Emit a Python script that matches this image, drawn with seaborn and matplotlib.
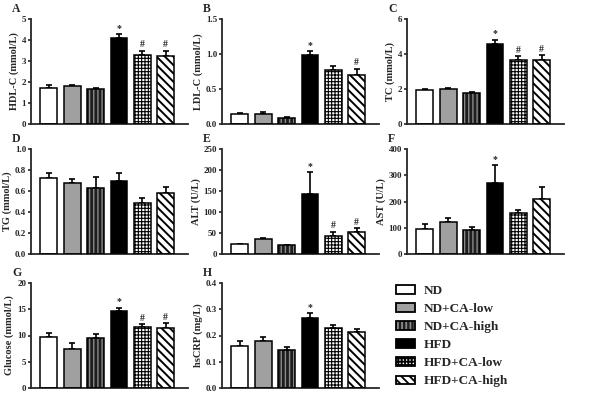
import numpy as np
import matplotlib
matplotlib.use('Agg')
import matplotlib.pyplot as plt
import seaborn as sns
from matplotlib.patches import Patch

# --- DATA ---
groups = ['ND', 'ND+CA-low', 'ND+CA-high', 'HFD', 'HFD+CA-low', 'HFD+CA-high']

hdl = [1.72, 1.82, 1.67, 4.08, 3.30, 3.25]
hdl_err = [0.12, 0.06, 0.06, 0.20, 0.20, 0.25]
ldl = [0.15, 0.15, 0.09, 0.98, 0.77, 0.70]
ldl_err = [0.01, 0.025, 0.01, 0.06, 0.06, 0.09]
tc = [1.92, 2.00, 1.80, 4.60, 3.68, 3.65]
tc_err = [0.10, 0.08, 0.05, 0.22, 0.18, 0.27]
tg = [0.72, 0.675, 0.63, 0.70, 0.485, 0.585]
tg_err = [0.05, 0.04, 0.105, 0.07, 0.045, 0.05]
alt = [23, 35, 21, 142, 44, 52]
alt_err = [2, 3, 1.5, 53, 9, 9]
ast = [97, 123, 90, 270, 155, 210]
ast_err = [17, 13, 12, 68, 12, 45]
glucose = [9.8, 7.5, 9.6, 14.6, 11.6, 11.5]
glucose_err = [0.6, 1.0, 0.7, 0.7, 0.6, 0.8]
hscrp = [0.160, 0.180, 0.145, 0.268, 0.228, 0.213]
hscrp_err = [0.018, 0.016, 0.013, 0.018, 0.013, 0.010]

# significance marks per bar
marks_a = ['', '', '', '*', '#', '#']
marks_b = ['', '', '', '*', '', '#']
marks_c = ['', '', '', '*', '#', '#']
marks_d = ['', '', '', '', '', '']
marks_e = ['', '', '', '*', '#', '#']
marks_f = ['', '', '', '*', '', '']
marks_g = ['', '', '', '*', '#', '#']
marks_h = ['', '', '', '*', '', '']

# --- STYLE ---
sns.set_style('ticks')
plt.rcParams['font.family'] = ['Liberation Serif', 'DejaVu Serif']
plt.rcParams['font.weight'] = 'bold'
plt.rcParams['axes.labelweight'] = 'bold'
plt.rcParams['hatch.linewidth'] = 1.3

face = ['white', '#a0a0a0', '#1e1e1e', 'black', 'white', 'white']
hatch_col = ['black', 'black', '#8a8a8a', 'black', 'black', 'black']
hatches = ['', '', '||||', '', '+++++', '\\\\\\\\']
hatch_lw = [1.0, 1.0, 1.0, 1.0, 0.8, 1.4]

fig = plt.figure(figsize=(5.94, 3.94), dpi=100)
W, H = 594, 394


def add_ax(left, top, width, height):
    return fig.add_axes([left / W, 1 - (top + height) / H, width / W, height / H])


def style_patch(p, ht, hc, lw):
    p.set_hatch(ht)
    p.set_edgecolor(hc)
    p.set_linewidth(0)
    if hasattr(p, 'set_hatch_linewidth'):
        p.set_hatch_linewidth(lw)


def panel(ax, vals, errs, marks, ylim, ticks, ylabel, letter):
    x = np.arange(len(groups))
    ax.errorbar(x, vals, yerr=[np.zeros(len(vals)), errs], fmt='none',
                ecolor='black', elinewidth=1.2, capsize=2.5, capthick=1.2, zorder=1)
    sns.barplot(x=groups, y=vals, hue=groups, palette=face, legend=False,
                width=0.72, linewidth=0, ax=ax, zorder=2)
    for p, ht, hc, lw in zip(ax.patches, hatches, hatch_col, hatch_lw):
        style_patch(p, ht, hc, lw)
    # outlines on top
    ax.bar(x, vals, width=0.72, fill=False, edgecolor='black', linewidth=1.1, zorder=3)
    for xi, v, e, m in zip(x, vals, errs, marks):
        if m:
            ax.text(xi, v + e + ylim * 0.012, m, ha='center', va='bottom', fontsize=7)
    ax.set_xlim(-0.76, 5.95)
    ax.set_ylim(0, ylim)
    ax.set_yticks(ticks)
    ax.set_xticks([])
    ax.set_xlabel('')
    ax.set_ylabel(ylabel, fontsize=7.5, labelpad=2)
    ax.tick_params(axis='y', labelsize=6.5, length=2.5, width=1.2, pad=1)
    for s in ['left', 'bottom']:
        ax.spines[s].set_linewidth(1.3)
    sns.despine(ax=ax)
    fig.text((ax.get_position().x0 * W - 19) / W, ax.get_position().y1 + 10 / H,
             letter, fontsize=8.5, fontweight='bold', va='center', ha='left')


lefts = [31, 222, 407]
tops = [19, 149, 283]
w, h = 157, 105

panel(add_ax(lefts[0], tops[0], w, h), hdl, hdl_err, marks_a, 5, [0, 1, 2, 3, 4, 5], 'HDL-C (mmol/L)', 'A')
panel(add_ax(lefts[1], tops[0], w, h), ldl, ldl_err, marks_b, 1.5, [0, 0.5, 1.0, 1.5], 'LDL-C (mmol/L)', 'B')
panel(add_ax(lefts[2], tops[0], w, h), tc, tc_err, marks_c, 6, [0, 2, 4, 6], 'TC (mmol/L)', 'C')
panel(add_ax(lefts[0], tops[1], w, h), tg, tg_err, marks_d, 1.0, [0, 0.2, 0.4, 0.6, 0.8, 1.0], 'TG (mmol/L)', 'D')
panel(add_ax(lefts[1], tops[1], w, h), alt, alt_err, marks_e, 250, [0, 50, 100, 150, 200, 250], 'ALT (U/L)', 'E')
panel(add_ax(lefts[2], tops[1], w, h), ast, ast_err, marks_f, 400, [0, 100, 200, 300, 400], 'AST (U/L)', 'F')
panel(add_ax(lefts[0], tops[2], w, h), glucose, glucose_err, marks_g, 20, [0, 5, 10, 15, 20], 'Glucose (mmol/L)', 'G')
panel(add_ax(lefts[1], tops[2], w, h), hscrp, hscrp_err, marks_h, 0.4, [0, 0.1, 0.2, 0.3, 0.4], 'hsCRP (mg/L)', 'H')

# --- LEGEND ---
handles = []
for fc, hc, ht, lw in zip(face, hatch_col, hatches, hatch_lw):
    hp = Patch(facecolor=fc, edgecolor=hc, hatch=ht, linewidth=0)
    if hasattr(hp, 'set_hatch_linewidth'):
        hp.set_hatch_linewidth(lw)
    handles.append((hp, Patch(fill=False, edgecolor='black', linewidth=1.3)))
fig.legend(handles, groups, loc='upper left', bbox_to_anchor=(396 / W, 1 - 285 / H),
           frameon=False, handlelength=1.45, handleheight=0.6,
           handletextpad=0.65, labelspacing=0.46, borderpad=0, borderaxespad=0,
           prop={'weight': 'bold', 'size': 9.5})

fig.savefig('out.png', dpi=100)
